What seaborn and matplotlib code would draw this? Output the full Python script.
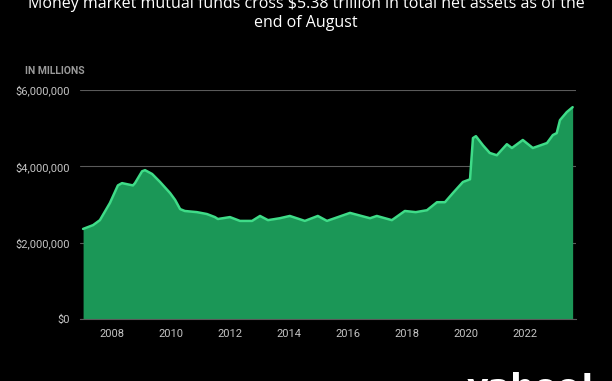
import numpy as np
import pandas as pd
import matplotlib
matplotlib.use("Agg")
import matplotlib.pyplot as plt
import seaborn as sns

# Money market fund total net assets (in $ millions)
years = [2007.02, 2007.36, 2007.59, 2007.93, 2008.20, 2008.34, 2008.71, 2008.78,
         2009.02, 2009.12, 2009.36, 2009.63, 2009.97, 2010.14, 2010.31, 2010.47,
         2010.88, 2011.22, 2011.49, 2011.59, 2012.00, 2012.34, 2012.75, 2013.02,
         2013.29, 2013.69, 2014.03, 2014.54, 2014.98, 2015.29, 2016.07, 2016.75,
         2016.98, 2017.49, 2017.93, 2018.30, 2018.68, 2019.02, 2019.29, 2019.56,
         2019.90, 2020.14, 2020.24, 2020.34, 2020.58, 2020.81, 2021.05, 2021.39,
         2021.56, 2021.93, 2022.27, 2022.75, 2022.95, 2023.08, 2023.19, 2023.42,
         2023.62]
assets = [2.36, 2.46, 2.59, 3.04, 3.50, 3.56, 3.50, 3.56,
          3.87, 3.90, 3.80, 3.59, 3.30, 3.12, 2.88, 2.83,
          2.80, 2.75, 2.67, 2.62, 2.67, 2.57, 2.57, 2.70,
          2.59, 2.64, 2.70, 2.57, 2.70, 2.57, 2.78, 2.64,
          2.70, 2.59, 2.83, 2.80, 2.85, 3.06, 3.06, 3.30,
          3.59, 3.66, 4.74, 4.79, 4.55, 4.35, 4.29, 4.58,
          4.48, 4.69, 4.48, 4.61, 4.82, 4.87, 5.21, 5.42,
          5.55]
y_ticks = [0, 2_000_000, 4_000_000, 6_000_000]
x_ticks = [2008, 2010, 2012, 2014, 2016, 2018, 2020, 2022]

df = pd.DataFrame({"year": years, "assets": [a * 1_000_000 for a in assets]})

sns.set_style("dark", {"axes.facecolor": "black", "figure.facecolor": "black"})
plt.rcParams["font.family"] = ["Roboto", "DejaVu Sans"]

fig = plt.figure(figsize=(6.12, 3.81), dpi=100)
ax = fig.add_axes([0.1307, 0.1627, 0.8103, 0.6011])

ax.fill_between(df["year"], df["assets"], color="#1b9757", linewidth=0, zorder=2)
sns.lineplot(data=df, x="year", y="assets", color="#3fdc88", linewidth=1.8, ax=ax, zorder=3)

ax.set_xlim(2006.915, 2023.73)
ax.set_ylim(0, 6_000_000)
ax.set_yticks(y_ticks)
ax.set_yticklabels([f"${v:,.0f}" for v in y_ticks])
ax.set_xticks(x_ticks)
ax.set_xticklabels([str(x) for x in x_ticks])
ax.set_xlabel("")
ax.set_ylabel("")

ax.grid(axis="y", color="#5a5a5a", linewidth=0.8, zorder=1)
ax.grid(axis="x", visible=False)
for s in ["top", "right", "left"]:
    ax.spines[s].set_visible(False)
ax.spines["bottom"].set_color("#5a5a5a")
ax.spines["bottom"].set_linewidth(0.8)
ax.tick_params(axis="y", colors="#c4c4c4", labelsize=8, length=4, color="#5a5a5a", pad=3)
ax.tick_params(axis="x", colors="#c4c4c4", labelsize=8, length=3, color="#3a3a3a", pad=4)

fig.text(0.5, 1.01,
         "Money market mutual funds cross $5.38 trillion in total net assets as of the\nend of August",
         ha="center", va="top", color="white", fontsize=11.5, linespacing=1.2,
         family=["Open Sans", "DejaVu Sans"])
fig.text(0.041, 0.813, "IN MILLIONS", ha="left", va="center", color="#9a9a9a",
         fontsize=7.5, fontweight="bold")
fig.text(0.762, -0.064, "yahoo!", ha="left", va="bottom", color="white",
         fontsize=24, fontweight="bold", family=["DejaVu Sans"])

fig.savefig("out.png", dpi=100, facecolor="black")
